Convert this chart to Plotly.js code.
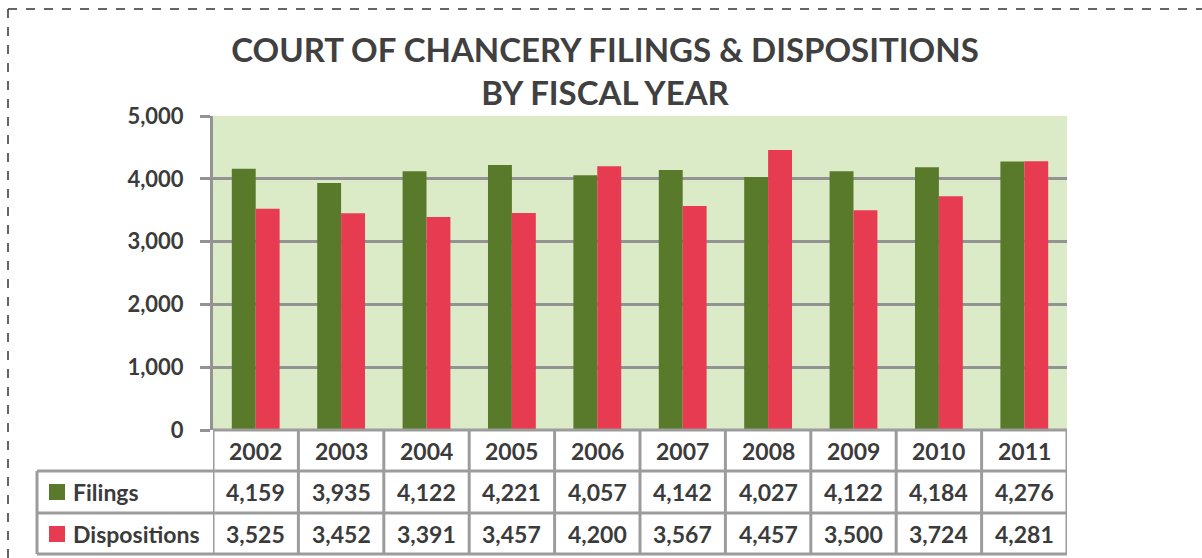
<!DOCTYPE html>
<html>
<head>
<meta charset="utf-8">
<script src="https://cdn.plot.ly/plotly-3.0.1.min.js"></script>
<style>html,body{margin:0;padding:0;background:#fff;}#chart{width:1202px;height:558px;}</style>
</head>
<body>
<div id="chart"></div>
<script>
const years = ['2002','2003','2004','2005','2006','2007','2008','2009','2010','2011'];
const filings = [4159,3935,4122,4221,4057,4142,4027,4122,4184,4276];
const dispositions = [3525,3452,3391,3457,4200,3567,4457,3500,3724,4281];
const seriesNames = ['Filings','Dispositions'];
const yTicks = [0,1000,2000,3000,4000,5000];
const titleText = 'COURT OF CHANCERY FILINGS & DISPOSITIONS<br>BY FISCAL YEAR';

const W = 1202, H = 558;
const colFil = '#5a7a2b', colDis = '#e63b50';
const gridCol = '#939393', txtCol = '#3b3b3b';
const FONT = 'Lato, "Open Sans", sans-serif';
const px = p => p / W;
const py = p => 1 - p / H;

const plotL = 213, plotR = 1067, plotT = 116, plotB = 430;
const rowLines = [430, 471, 513, 554];
const rowCenters = [451, 492, 534];
const tableL = 37;

const fmt = v => v.toLocaleString('en-US');

const traces = [
  {type:'bar', name:seriesNames[0], x:years, y:filings, marker:{color:colFil}, hoverinfo:'x+y'},
  {type:'bar', name:seriesNames[1], x:years, y:dispositions, marker:{color:colDis}, hoverinfo:'x+y'}
];

const shapes = [];
const bcol = '#9c9c9c';
// dashed page border
shapes.push({type:'line', xref:'paper', yref:'paper', x0:px(8), x1:1, y0:py(9), y1:py(9), line:{color:'#333', width:1.5, dash:'dash'}});
shapes.push({type:'line', xref:'paper', yref:'paper', x0:px(8), x1:px(8), y0:py(9), y1:0, line:{color:'#333', width:1.5, dash:'dash'}});
// table horizontal lines over year columns
rowLines.forEach((r, i) => {
  shapes.push({type:'line', xref:'x', yref:'paper', x0:-0.5, x1:years.length - 0.5, y0:py(r), y1:py(r), line:{color:bcol, width:3}});
  if (i >= 1) {
    shapes.push({type:'line', xref:'paper', yref:'paper', x0:px(tableL), x1:px(plotL), y0:py(r), y1:py(r), line:{color:bcol, width:3}});
  }
});
// vertical lines at category boundaries
for (let i = 0; i <= years.length; i++) {
  shapes.push({type:'line', xref:'x', yref:'paper', x0:i - 0.5, x1:i - 0.5, y0:py(rowLines[0]), y1:py(rowLines[3]), line:{color:bcol, width:3}});
}
// left edge of label column
shapes.push({type:'line', xref:'paper', yref:'paper', x0:px(tableL), x1:px(tableL), y0:py(rowLines[1]), y1:py(rowLines[3]), line:{color:bcol, width:3}});
// legend keys
[colFil, colDis].forEach((c, i) => {
  const cy = rowCenters[i + 1];
  shapes.push({type:'rect', xref:'paper', yref:'paper', x0:px(49), x1:px(65), y0:py(cy + 8), y1:py(cy - 8), fillcolor:c, line:{width:0}});
});

const annotations = [];
const tfont = {family:FONT, size:23, color:txtCol, weight:'bold'};
years.forEach((yr, i) => {
  // category axes position annotations by category index
  annotations.push({xref:'x', yref:'paper', x:i, y:py(rowCenters[0]), text:yr, showarrow:false, font:tfont, xanchor:'center', yanchor:'middle'});
  annotations.push({xref:'x', yref:'paper', x:i, y:py(rowCenters[1]), text:fmt(filings[i]), showarrow:false, font:tfont, xanchor:'center', yanchor:'middle'});
  annotations.push({xref:'x', yref:'paper', x:i, y:py(rowCenters[2]), text:fmt(dispositions[i]), showarrow:false, font:tfont, xanchor:'center', yanchor:'middle'});
});
seriesNames.forEach((n, i) => {
  annotations.push({xref:'paper', yref:'paper', x:px(71), y:py(rowCenters[i + 1]), text:n, showarrow:false, font:tfont, xanchor:'left', yanchor:'middle'});
});

const layout = {
  width:W, height:H,
  margin:{l:0, r:0, t:0, b:0, pad:0},
  paper_bgcolor:'#ffffff',
  plot_bgcolor:'#dcebc7',
  showlegend:false,
  barmode:'group',
  bargap:0.44,
  bargroupgap:0,
  title:{text:titleText, x:px(605), xanchor:'center', y:py(62), yanchor:'middle',
         font:{family:FONT, size:33, color:'#404040', weight:'bold'}},
  xaxis:{type:'category', domain:[px(plotL), px(plotR)], range:[-0.5, years.length - 0.5],
         showticklabels:false, ticks:'', showgrid:false, zeroline:false, showline:false, fixedrange:true},
  yaxis:{domain:[py(plotB), py(plotT)], range:[0, 5000], tickvals:yTicks, tickformat:',d',
         showgrid:true, gridcolor:gridCol, gridwidth:3, zeroline:false,
         showline:true, linecolor:gridCol, linewidth:3,
         ticks:'outside', ticklen:10, tickwidth:3, tickcolor:gridCol,
         ticklabelstandoff:12,
         tickfont:{family:FONT, size:22, color:txtCol, weight:'bold'}, fixedrange:true},
  shapes:shapes,
  annotations:annotations
};

Plotly.newPlot('chart', traces, layout, {staticPlot:true, displayModeBar:false});
</script>
</body>
</html>
